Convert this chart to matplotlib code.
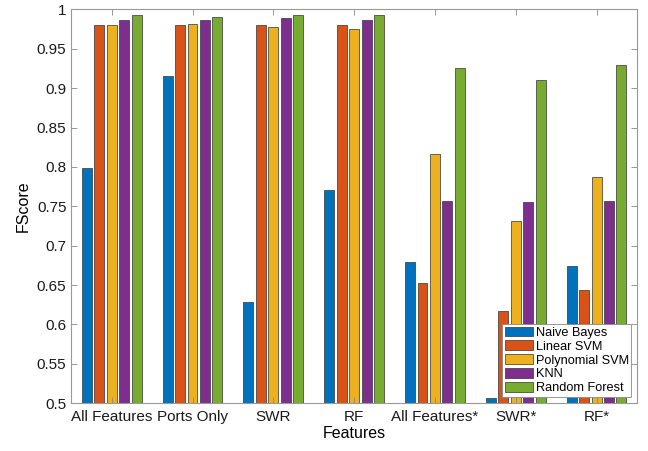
import numpy as np
import matplotlib
matplotlib.use("Agg")
import matplotlib.pyplot as plt

plt.rcParams["font.family"] = ["Liberation Sans", "DejaVu Sans"]

FEATURE_SETS = ["All Features", "Ports Only", "SWR", "RF", "All Features*", "SWR*", "RF*"]
CLASSIFIERS = ["Naive Bayes", "Linear SVM", "Polynomial SVM", "KNN", "Random Forest"]

NAIVE_BAYES = [0.799, 0.915, 0.629, 0.771, 0.679, 0.507, 0.674]
LINEAR_SVM = [0.980, 0.980, 0.980, 0.980, 0.653, 0.617, 0.644]
POLY_SVM = [0.980, 0.981, 0.978, 0.975, 0.816, 0.732, 0.787]
KNN = [0.986, 0.987, 0.989, 0.986, 0.757, 0.755, 0.757]
RANDOM_FOREST = [0.993, 0.991, 0.993, 0.993, 0.926, 0.910, 0.929]

COLORS = ["#0072BD", "#D95319", "#EDB120", "#7E2F8E", "#77AC30"]

series = [NAIVE_BAYES, LINEAR_SVM, POLY_SVM, KNN, RANDOM_FOREST]

fig = plt.figure(figsize=(6.48, 4.51), dpi=100)
ax = fig.add_axes([0.110, 0.106, 0.873, 0.873])

x = np.arange(1, len(FEATURE_SETS) + 1)
n = len(series)
# grouped bars the way MATLAB lays them out
group_width = min(0.8, n / (n + 1.5))
slot = group_width / n
for i, (vals, name, col) in enumerate(zip(series, CLASSIFIERS, COLORS)):
    offset = -group_width / 2 + slot * (i + 0.5)
    ax.bar(x + offset, vals, width=slot * 0.8, color=col, edgecolor="#333333",
           linewidth=0.5, label=name)

ax.set_xlim(0.5, 7.5)
ax.set_ylim(0.5, 1.0)
ax.set_xticks(x)
ax.set_xticklabels(FEATURE_SETS)
yt = np.arange(0.5, 1.001, 0.05)
ax.set_yticks(yt)
ax.set_yticklabels([f"{v:g}" for v in np.round(yt, 2)])
ax.tick_params(direction="in", top=True, right=True, length=4, color="#888888",
               labelsize=11, labelcolor="#1a1a1a", width=0.6)
ax.tick_params(axis="x", pad=5)
for s in ax.spines.values():
    s.set_color("#999999")
    s.set_linewidth(0.8)

ax.set_xlabel("Features", fontsize=11.5, labelpad=1)
ax.set_ylabel("FScore", fontsize=11.5, labelpad=4)

leg = ax.legend(loc="lower right", bbox_to_anchor=(0.99, 0.016), borderaxespad=0,
                fontsize=9.2, fancybox=False, framealpha=1, edgecolor="#888888",
                handlelength=2.2, handleheight=0.8, handletextpad=0.2,
                labelspacing=0.12, borderpad=0.2)
leg.get_frame().set_linewidth(0.6)

fig.savefig("out.png", dpi=100)
